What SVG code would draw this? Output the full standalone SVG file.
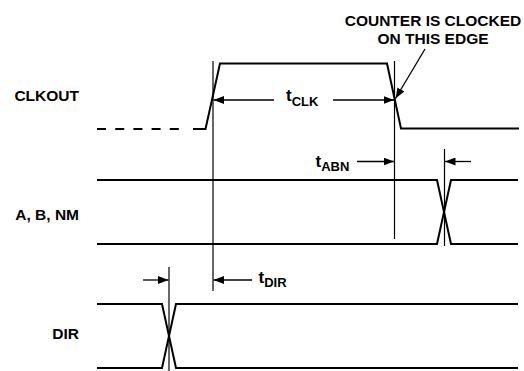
<svg xmlns="http://www.w3.org/2000/svg" width="524" height="371" viewBox="0 0 524 371">
<defs>
<style>
.sig{fill:none;stroke:#000;stroke-width:2;stroke-linejoin:miter}
.ref{fill:none;stroke:#000;stroke-width:1.2}
.arr{fill:none;stroke:#000;stroke-width:1.3;marker-end:url(#ah)}
.lbl{font-family:"Liberation Sans",Arial,sans-serif;font-weight:bold;font-size:15.5px;fill:#000}
.tt{font-size:17px}
.sub{font-size:13px}
</style>
<marker id="ah" markerUnits="userSpaceOnUse" markerWidth="11" markerHeight="8" refX="10.5" refY="4" orient="auto">
<path d="M0,0 L10.5,4 L0,8 z" fill="#000"/>
</marker>
</defs>
<rect width="524" height="371" fill="#fff"/>
<g id="clkout">
<text class="lbl" x="79" y="101" text-anchor="end">CLKOUT</text>
<line class="sig" x1="97" y1="129" x2="180" y2="129" stroke-dasharray="9 9.2"/>
<path class="sig" d="M193,129 L205.5,129 L220,63.5 L387,63.5 L401,128.5 L519,128.5"/>
</g>
<g id="abnm">
<text class="lbl" x="79" y="220" text-anchor="end">A, B, NM</text>
<path class="sig" d="M97,180 L437,180 L451,244 L518,244"/>
<path class="sig" d="M97,244 L437,244 L451,180 L518,180"/>
</g>
<g id="dir">
<text class="lbl" x="79" y="339" text-anchor="end">DIR</text>
<path class="sig" d="M97,304 L162,304 L176,368 L518,368"/>
<path class="sig" d="M97,368 L162,368 L176,304 L518,304"/>
</g>
<g id="note">
<text class="lbl" x="433" y="26" text-anchor="middle">COUNTER IS CLOCKED</text>
<text class="lbl" x="433" y="44" text-anchor="middle">ON THIS EDGE</text>
</g>
<g id="tclk"><text class="lbl tt" x="286" y="101">t<tspan class="sub" dy="4.7">CLK</tspan></text></g>
<g id="tabn"><text class="lbl tt" x="315.5" y="166.7">t<tspan class="sub" dy="4">ABN</tspan></text></g>
<g id="tdir"><text class="lbl tt" x="258.5" y="283.3">t<tspan class="sub" dy="3.6">DIR</tspan></text></g>
<g id="connectors">
<line class="ref" x1="213" y1="61" x2="213" y2="291"/>
<line class="ref" x1="394.5" y1="61" x2="394.5" y2="239"/>
<line class="ref" x1="444.5" y1="149" x2="444.5" y2="246"/>
<line class="ref" x1="169" y1="267" x2="169" y2="371"/>
<line class="arr" x1="274" y1="100" x2="213.5" y2="100"/>
<line class="arr" x1="333" y1="100" x2="394" y2="100"/>
<line class="arr" x1="357" y1="161.5" x2="394" y2="161.5"/>
<line class="arr" x1="471" y1="161.5" x2="445" y2="161.5"/>
<line class="arr" x1="143" y1="280" x2="168.5" y2="280"/>
<line class="arr" x1="252" y1="280" x2="213.5" y2="280"/>
<line class="arr" x1="425" y1="49" x2="395.5" y2="98.5"/>
</g>
</svg>
